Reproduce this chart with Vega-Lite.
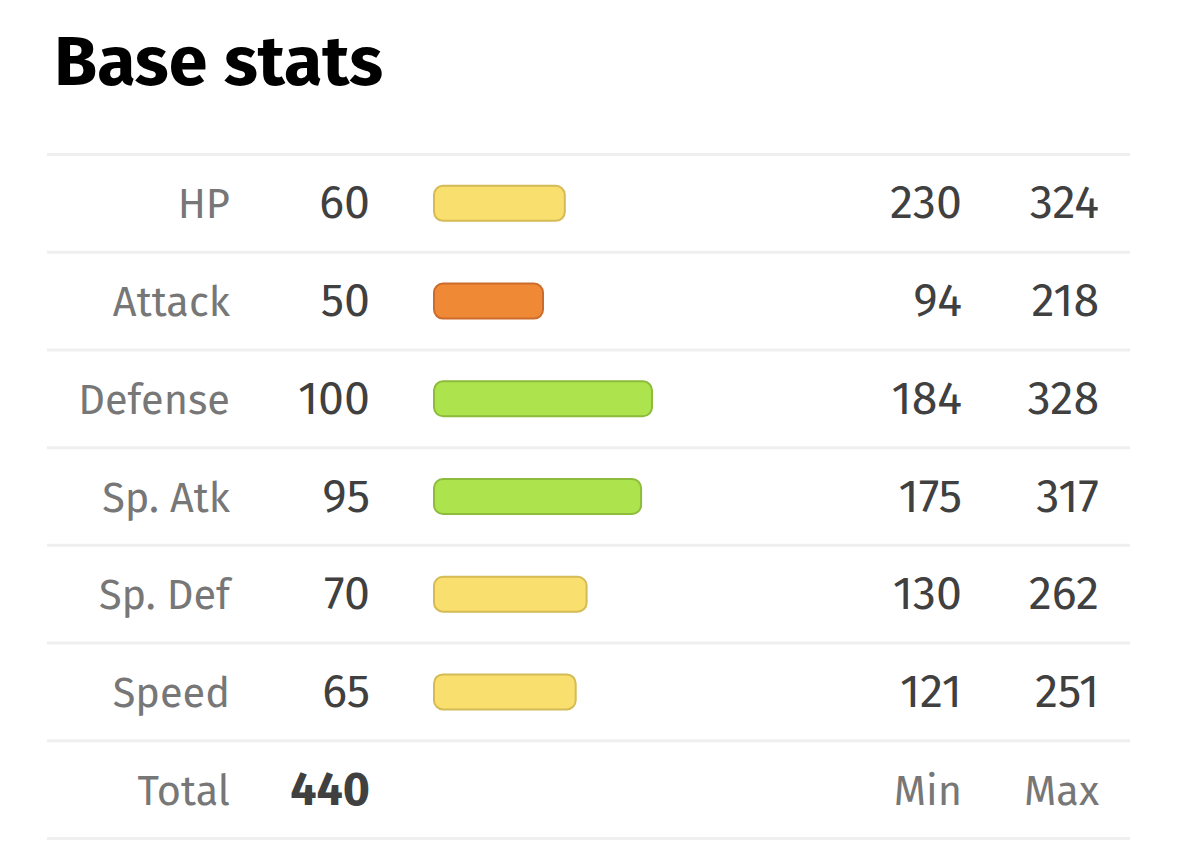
{
  "$schema": "https://vega.github.io/schema/vega-lite/v6.json",
  "width": 1179,
  "height": 739,
  "autosize": "none",
  "padding": {"left": 0, "top": 110, "right": 0, "bottom": 0},
  "background": "white",
  "title": {"text": "Base stats", "anchor": "start", "frame": "group", "font": "Fira Sans, Lato", "fontSize": 70, "fontWeight": "bold", "color": "#000000", "offset": 10, "dx": 54},
  "config": {"view": {"stroke": null}, "font": "Fira Sans, Lato"},
  "data": {"values": [
    {"stat": "HP", "base": 60, "min": 230, "max": 324},
    {"stat": "Attack", "base": 50, "min": 94, "max": 218},
    {"stat": "Defense", "base": 100, "min": 184, "max": 328},
    {"stat": "Sp. Atk", "base": 95, "min": 175, "max": 317},
    {"stat": "Sp. Def", "base": 70, "min": 130, "max": 262},
    {"stat": "Speed", "base": 65, "min": 121, "max": 251},
    {"stat": "Total", "base": 440, "min": "Min", "max": "Max"}
  ]},
  "layer": [
    {
      "mark": {"type": "rule", "stroke": "#efefef", "strokeWidth": 3},
      "encoding": {
        "y": {"field": "stat", "type": "nominal", "bandPosition": 0, "axis": null,
          "scale": {"type": "band", "domain": ["HP", "Attack", "Defense", "Sp. Atk", "Sp. Def", "Speed", "Total"], "range": [44.5, 728.5], "paddingInner": 0, "paddingOuter": 0}},
        "x": {"datum": -177.5, "type": "quantitative", "axis": null,
          "scale": {"domain": [-199.08, 341.74], "nice": false, "zero": false}},
        "x2": {"datum": 319.3}
      }
    },
    {
      "transform": [{"filter": "datum.stat === 'Total'"}],
      "mark": {"type": "rule", "stroke": "#efefef", "strokeWidth": 3},
      "encoding": {
        "y": {"field": "stat", "type": "nominal", "bandPosition": 1},
        "x": {"datum": -177.5, "type": "quantitative"},
        "x2": {"datum": 319.3}
      }
    },
    {
      "transform": [{"filter": "datum.stat !== 'Total'"}],
      "mark": {"type": "bar", "size": 35, "cornerRadius": 9, "strokeWidth": 2},
      "encoding": {
        "y": {"field": "stat", "type": "nominal"},
        "x": {"field": "base", "type": "quantitative", "stack": null},
        "x2": {"datum": 0},
        "fill": {"field": "base", "type": "quantitative", "legend": null,
          "scale": {"type": "threshold", "domain": [30, 60, 90, 120, 150], "range": ["#f34444", "#f08935", "#f8df6e", "#ade34c", "#23cd5e", "#00c2b8"]}},
        "stroke": {"field": "base", "type": "quantitative", "legend": null,
          "scale": {"type": "threshold", "domain": [30, 60, 90, 120, 150], "range": ["#c43636", "#cc6c2c", "#d4bb55", "#8dbb3c", "#1ca84c", "#009e96"]}}
      }
    },
    {
      "mark": {"type": "text", "align": "right", "baseline": "alphabetic", "dy": 15, "fontSize": 41.5, "color": "#777777"},
      "encoding": {
        "y": {"field": "stat", "type": "nominal"},
        "x": {"datum": -93.58, "type": "quantitative"},
        "text": {"field": "stat", "type": "nominal"}
      }
    },
    {
      "transform": [{"filter": "datum.stat !== 'Total'"}],
      "mark": {"type": "text", "align": "right", "baseline": "alphabetic", "dy": 15, "fontSize": 46.5, "color": "#404040"},
      "encoding": {
        "y": {"field": "stat", "type": "nominal"},
        "x": {"datum": -29.36, "type": "quantitative"},
        "text": {"field": "base", "type": "quantitative"}
      }
    },
    {
      "transform": [{"filter": "datum.stat === 'Total'"}],
      "mark": {"type": "text", "align": "right", "baseline": "alphabetic", "dy": 15, "fontSize": 46.5, "fontWeight": "bold", "color": "#404040"},
      "encoding": {
        "y": {"field": "stat", "type": "nominal"},
        "x": {"datum": -29.36, "type": "quantitative"},
        "text": {"field": "base", "type": "quantitative"}
      }
    },
    {
      "transform": [{"filter": "datum.stat !== 'Total'"}],
      "mark": {"type": "text", "align": "right", "baseline": "alphabetic", "dy": 15, "fontSize": 46.5, "color": "#404040"},
      "encoding": {
        "y": {"field": "stat", "type": "nominal"},
        "x": {"datum": 242.2, "type": "quantitative"},
        "text": {"field": "min", "type": "nominal"}
      }
    },
    {
      "transform": [{"filter": "datum.stat !== 'Total'"}],
      "mark": {"type": "text", "align": "right", "baseline": "alphabetic", "dy": 15, "fontSize": 46.5, "color": "#404040"},
      "encoding": {
        "y": {"field": "stat", "type": "nominal"},
        "x": {"datum": 305.05, "type": "quantitative"},
        "text": {"field": "max", "type": "nominal"}
      }
    },
    {
      "transform": [{"filter": "datum.stat === 'Total'"}],
      "mark": {"type": "text", "align": "right", "baseline": "alphabetic", "dy": 15, "fontSize": 41.5, "color": "#777777"},
      "encoding": {
        "y": {"field": "stat", "type": "nominal"},
        "x": {"datum": 242.2, "type": "quantitative"},
        "text": {"field": "min", "type": "nominal"}
      }
    },
    {
      "transform": [{"filter": "datum.stat === 'Total'"}],
      "mark": {"type": "text", "align": "right", "baseline": "alphabetic", "dy": 15, "fontSize": 41.5, "color": "#777777"},
      "encoding": {
        "y": {"field": "stat", "type": "nominal"},
        "x": {"datum": 305.05, "type": "quantitative"},
        "text": {"field": "max", "type": "nominal"}
      }
    }
  ]
}
